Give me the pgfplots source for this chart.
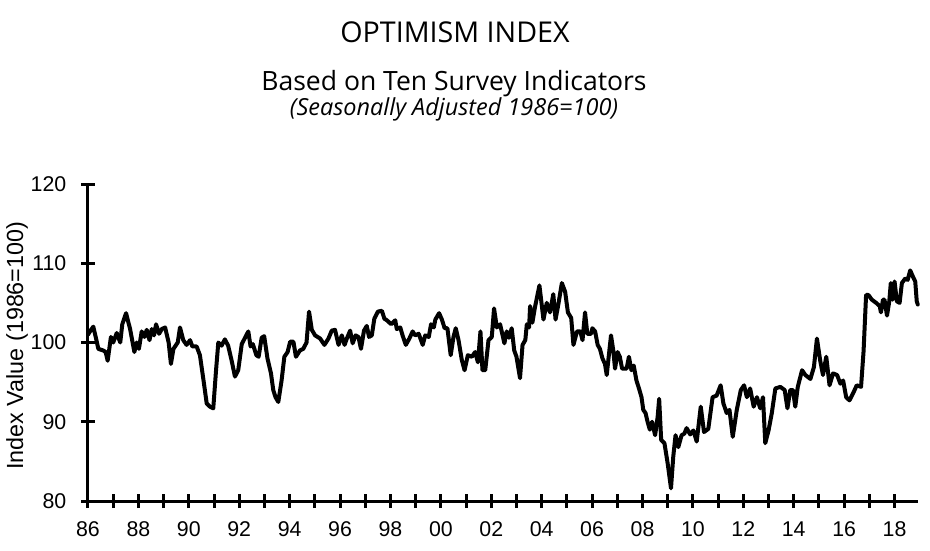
\documentclass[border=0pt]{standalone}
\usepackage{fontspec}
\setmainfont{Open Sans}
\newfontfamily\arialfont{Liberation Sans}
\usepackage{pgfplots}
\usepackage{pgfplotstable}
\pgfplotsset{compat=1.18}
\pgfplotstableread{
x y
1986.00 101.0
1986.10 101.5
1986.21 102.0
1986.32 100.5
1986.41 99.2
1986.60 99.0
1986.70 98.8
1986.78 97.7
1986.91 100.7
1987.00 100.0
1987.14 101.2
1987.28 100.0
1987.36 102.3
1987.51 103.7
1987.67 101.7
1987.84 98.8
1987.93 100.0
1988.02 99.2
1988.13 101.4
1988.24 100.7
1988.33 101.6
1988.44 100.3
1988.53 101.7
1988.62 100.9
1988.70 102.3
1988.82 101.1
1988.93 101.7
1989.06 101.9
1989.20 100.0
1989.29 97.3
1989.39 99.2
1989.56 100.0
1989.65 101.9
1989.78 100.3
1989.91 99.7
1990.05 100.3
1990.14 99.5
1990.31 99.5
1990.44 98.4
1990.58 95.3
1990.71 92.3
1990.84 91.9
1990.97 91.7
1991.08 96.5
1991.17 100.0
1991.30 99.6
1991.43 100.4
1991.56 99.6
1991.70 97.7
1991.83 95.7
1991.96 96.5
1992.10 99.8
1992.23 100.6
1992.36 101.4
1992.45 99.5
1992.54 99.8
1992.68 98.4
1992.77 98.2
1992.89 100.6
1992.99 100.8
1993.12 98.0
1993.26 96.1
1993.35 94.0
1993.44 93.1
1993.55 92.5
1993.68 95.2
1993.79 98.2
1993.92 98.8
1994.02 100.1
1994.15 100.1
1994.25 98.2
1994.41 99.0
1994.54 99.2
1994.67 100.0
1994.77 103.9
1994.88 101.6
1995.01 100.9
1995.21 100.5
1995.38 99.7
1995.54 100.5
1995.67 101.5
1995.80 101.6
1995.94 99.7
1996.07 100.9
1996.18 99.7
1996.27 100.5
1996.40 101.5
1996.50 99.9
1996.62 100.9
1996.73 100.7
1996.83 99.2
1996.95 101.5
1997.06 102.1
1997.15 100.7
1997.26 100.9
1997.36 103.0
1997.50 103.9
1997.66 104.0
1997.76 103.0
1997.86 102.8
1998.03 102.3
1998.19 102.8
1998.25 101.7
1998.39 101.9
1998.48 100.9
1998.61 99.7
1998.75 100.5
1998.88 101.4
1998.98 100.9
1999.12 101.1
1999.28 99.7
1999.38 100.9
1999.52 100.7
1999.61 102.3
1999.72 101.9
1999.78 102.9
1999.93 103.7
2000.04 102.9
2000.15 101.8
2000.26 101.8
2000.39 98.4
2000.50 100.7
2000.59 101.8
2000.70 100.3
2000.83 97.8
2000.94 96.5
2001.07 98.4
2001.23 98.2
2001.36 98.8
2001.47 97.5
2001.57 101.4
2001.65 96.5
2001.76 96.5
2001.89 100.3
2002.02 100.7
2002.11 104.3
2002.22 101.9
2002.35 102.3
2002.52 99.9
2002.61 101.4
2002.70 100.6
2002.81 101.8
2002.91 99.0
2003.00 98.2
2003.14 95.5
2003.24 99.7
2003.35 100.3
2003.41 102.3
2003.50 101.9
2003.54 104.6
2003.63 102.5
2003.73 104.4
2003.91 107.2
2004.07 102.9
2004.20 105.0
2004.33 103.8
2004.46 106.1
2004.55 102.9
2004.66 104.8
2004.80 107.5
2004.93 106.4
2005.04 103.8
2005.17 103.1
2005.26 99.7
2005.40 101.4
2005.53 101.4
2005.62 100.3
2005.72 103.8
2005.81 101.1
2005.96 101.1
2006.01 101.8
2006.12 101.4
2006.22 99.7
2006.31 99.2
2006.41 98.0
2006.51 97.3
2006.58 95.9
2006.75 100.9
2006.84 99.0
2006.91 96.7
2007.01 98.8
2007.10 98.2
2007.19 96.7
2007.37 96.7
2007.46 98.2
2007.56 96.5
2007.65 97.1
2007.76 95.2
2007.86 94.2
2007.96 93.1
2008.03 91.5
2008.12 91.1
2008.20 90.0
2008.29 89.0
2008.38 90.0
2008.50 88.3
2008.60 90.6
2008.66 92.9
2008.74 87.7
2008.87 87.3
2009.00 84.7
2009.13 81.6
2009.22 85.6
2009.31 88.3
2009.42 86.8
2009.55 88.3
2009.66 88.5
2009.75 89.2
2009.89 88.4
2010.02 88.9
2010.15 87.5
2010.31 91.9
2010.44 88.7
2010.61 89.1
2010.78 93.1
2010.94 93.3
2011.10 94.6
2011.21 92.3
2011.34 91.1
2011.45 91.5
2011.58 88.1
2011.74 91.5
2011.90 94.0
2012.03 94.6
2012.14 93.1
2012.27 94.2
2012.41 91.9
2012.54 93.1
2012.67 91.7
2012.78 93.1
2012.87 87.3
2013.00 88.9
2013.13 91.1
2013.27 94.2
2013.47 94.4
2013.64 94.0
2013.75 91.7
2013.86 94.0
2013.97 94.0
2014.06 91.9
2014.16 94.4
2014.33 96.5
2014.46 95.9
2014.66 95.4
2014.80 96.9
2014.92 100.5
2015.05 97.7
2015.16 95.9
2015.29 98.2
2015.42 94.6
2015.56 96.1
2015.72 95.9
2015.85 94.8
2015.96 95.2
2016.08 93.1
2016.21 92.7
2016.37 93.7
2016.50 94.6
2016.67 94.4
2016.77 98.9
2016.87 106.0
2016.96 106.0
2017.10 105.4
2017.27 105.0
2017.41 104.6
2017.46 103.8
2017.54 105.4
2017.60 105.4
2017.70 103.4
2017.79 105.2
2017.85 107.5
2017.92 105.4
2018.00 107.7
2018.09 105.2
2018.20 105.0
2018.29 107.5
2018.43 108.1
2018.52 107.9
2018.62 109.1
2018.73 108.3
2018.82 107.7
2018.88 105.2
2018.92 104.8
}\optimism
\begin{document}
\begin{tikzpicture}[x=1pt,y=1pt]
\path[use as bounding box] (-66,-36.75) rectangle (631.5,375.75);
\begin{axis}[
  at={(0,0)}, anchor=south west,
  width=622.5pt, height=237.75pt, scale only axis,
  xmin=1986, xmax=2018.93, ymin=80, ymax=120,
  axis lines=left,
  axis line style={-, line width=2.25pt, black},
  xtick={1986,1988,...,2018},
  xticklabels={86,88,90,92,94,96,98,00,02,04,06,08,10,12,14,16,18},
  minor xtick={1987,1989,...,2017},
  ytick={80,90,...,120},
  tick align=center,
  major tick length=10.5pt, minor tick length=10.5pt,
  every tick/.style={line width=2.25pt, black},
  minor tick style={line width=2.25pt, black},
  tick label style={font=\arialfont\fontsize{16}{16}\selectfont},
  xticklabel style={yshift=-7pt},
  yticklabel style={xshift=-7.5pt},
  /pgf/number format/assume math mode=true,
  ylabel={Index Value (1986=100)},
  every axis y label/.style={at={(axis description cs:-0.0855,0.49)}, rotate=90, anchor=center,
    font=\arialfont\fontsize{17.5}{17.5}\selectfont},
  clip=false,
]
\addplot[black, line width=3pt, line join=round, line cap=round] table[x=x,y=y] {\optimism};
\end{axis}
\node[anchor=base, font=\fontsize{21.5}{21.5}\selectfont] at (275.25,343.5) {OPTIMISM INDEX};
\node[anchor=base, font=\fontsize{19.9}{19.9}\selectfont] at (274.5,308) {Based on Ten Survey Indicators};
\node[anchor=base, font=\itshape\fontsize{17.6}{17.6}\selectfont] at (274.5,289.25) {(Seasonally Adjusted 1986=100)};
\end{tikzpicture}
\end{document}
